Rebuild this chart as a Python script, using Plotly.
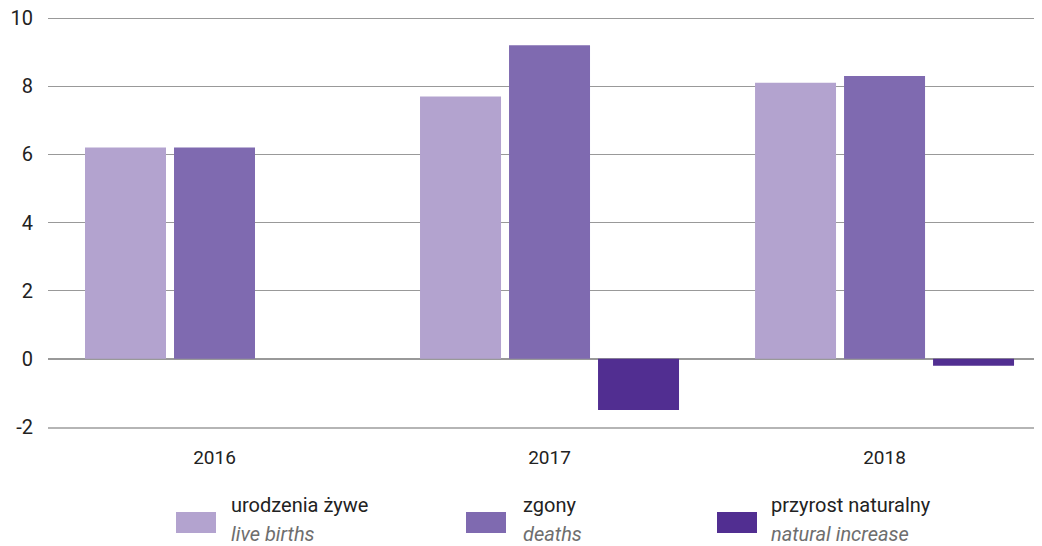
import plotly.graph_objects as go

years = ["2016", "2017", "2018"]
live_births = [6.2, 7.7, 8.1]
deaths = [6.2, 9.2, 8.3]
natural_increase = [0.0, -1.5, -0.2]

names_pl = ["urodzenia żywe", "zgony", "przyrost naturalny"]
names_en = ["live births", "deaths", "natural increase"]
colors = ["#b3a3cf", "#7f6ab0", "#512e91"]
y_ticks = [-2, 0, 2, 4, 6, 8, 10]
y_ticktext = ["-2", "0", "2", "4", "6", "8", "10"]

FONT = "Liberation Sans Narrow, Roboto, sans-serif"

fig = go.Figure()
for vals, name, col in zip([live_births, deaths, natural_increase], names_pl, colors):
    fig.add_trace(go.Bar(x=years, y=vals, name=name, marker=dict(color=col, line=dict(width=0)),
                         showlegend=False))

# custom legend (window pixel positions converted to plot-area fractions)
PL, PW, PB, PH = 48, 994, 427, 411
sw_x = [176, 466, 717]
txt_x = [229, 521, 769]
for i in range(3):
    fig.add_shape(type="rect", xref="paper", yref="paper",
                  x0=(sw_x[i] - PL) / PW, x1=(sw_x[i] + 40 - PL) / PW,
                  y0=(PB - 533) / PH, y1=(PB - 512) / PH,
                  fillcolor=colors[i], line=dict(width=0))
    fig.add_annotation(xref="paper", yref="paper",
                       x=(txt_x[i] - PL) / PW, y=(PB - 505) / PH,
                       xanchor="left", yanchor="middle", align="left", showarrow=False,
                       text=names_pl[i],
                       font=dict(family=FONT, size=20, color="#222222"))
    fig.add_annotation(xref="paper", yref="paper",
                       x=(txt_x[i] - PL) / PW, y=(PB - 534) / PH,
                       xanchor="left", yanchor="middle", align="left", showarrow=False,
                       text=f"<i>{names_en[i]}</i>",
                       font=dict(family=FONT, size=20, color="#6e6e6e"))

fig.update_layout(
    width=1034, height=538,
    margin=dict(l=40, r=0, t=8, b=119),
    paper_bgcolor="white", plot_bgcolor="white",
    barmode="group", bargap=0.203, bargroupgap=0.09,
    font=dict(family=FONT, size=19, color="#222222"),
    xaxis=dict(range=[-0.497, 2.47], showgrid=False, ticks="", showline=True,
               linecolor="#b5b5b5", linewidth=2, tickfont=dict(size=19),
               ticklabelstandoff=12),
    yaxis=dict(range=[-2, 10.06], tickvals=y_ticks, ticktext=y_ticktext, showgrid=True,
               gridcolor="#999999", gridwidth=1, zeroline=True, zerolinecolor="#999999",
               zerolinewidth=1.5, ticks="", ticklabelstandoff=14, tickfont=dict(size=20),
               ticklabeloverflow="allow", automargin=False),
)

fig.write_html("out.html")
